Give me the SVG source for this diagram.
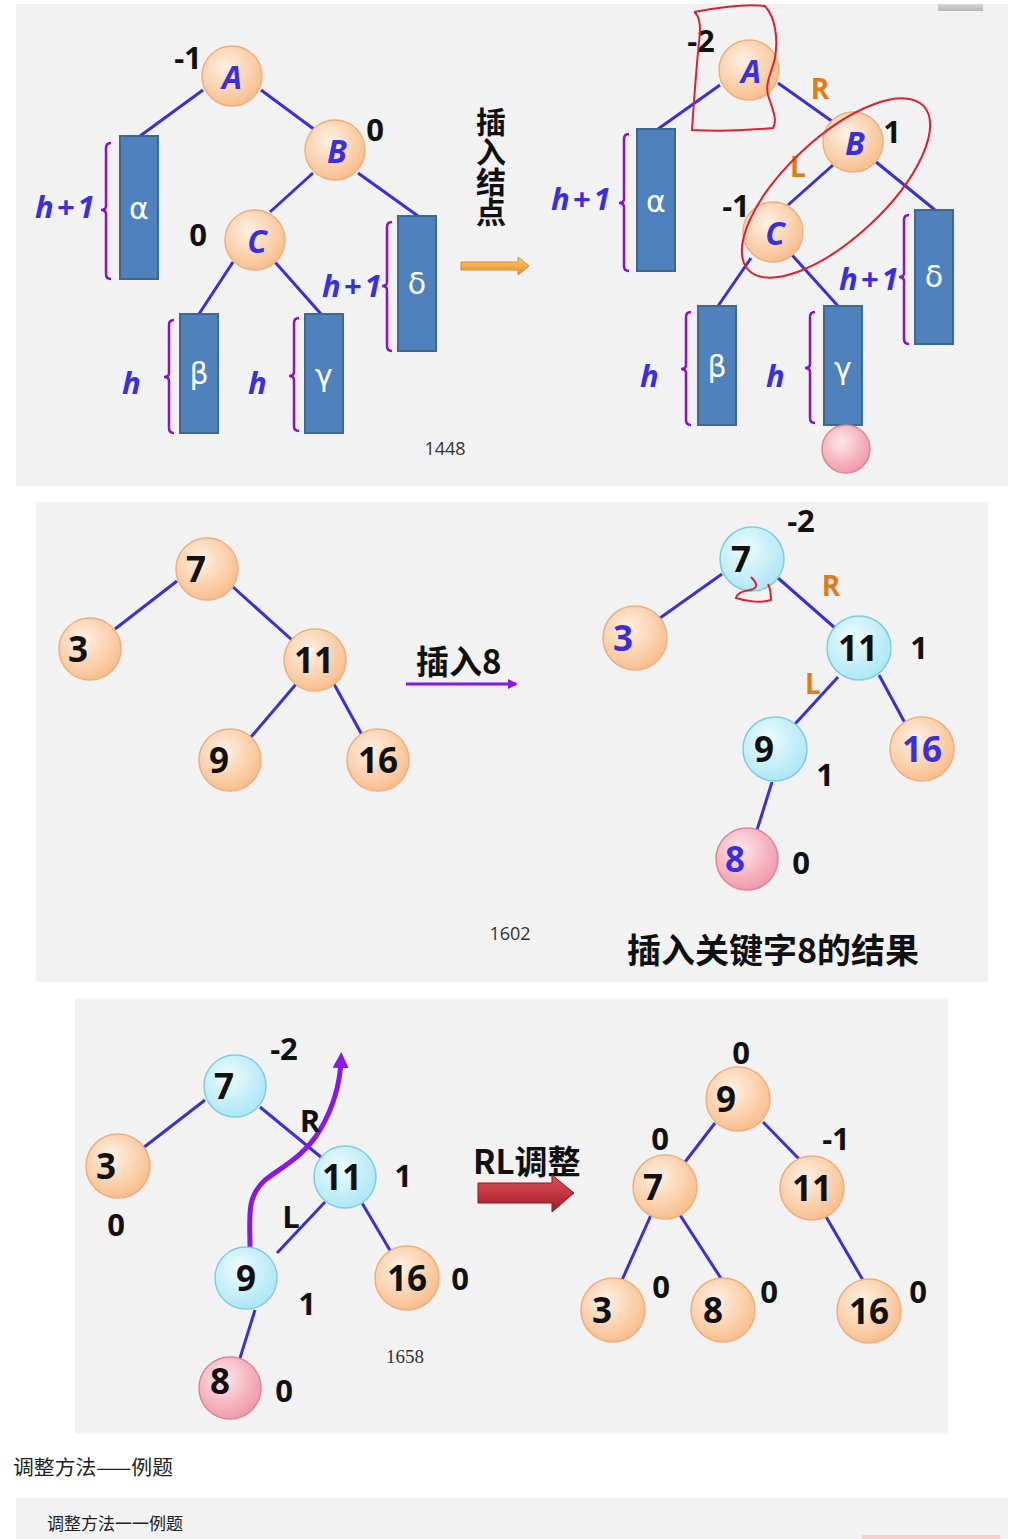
<svg xmlns="http://www.w3.org/2000/svg" width="1021" height="1539" viewBox="0 0 1021 1539">
<defs>
<radialGradient id="gOr" cx="0.4" cy="0.35" r="0.7">
<stop offset="0" stop-color="#fff1e4"/><stop offset="1" stop-color="#f8bb88"/>
</radialGradient>
<radialGradient id="gBl" cx="0.4" cy="0.35" r="0.7">
<stop offset="0" stop-color="#eefbfe"/><stop offset="1" stop-color="#a9e6f5"/>
</radialGradient>
<radialGradient id="gPk" cx="0.4" cy="0.35" r="0.7">
<stop offset="0" stop-color="#fde6ea"/><stop offset="1" stop-color="#f095a5"/>
</radialGradient>
<linearGradient id="gOrA" x1="0" y1="0" x2="0" y2="1">
<stop offset="0" stop-color="#fbd07a"/><stop offset="1" stop-color="#e88a1c"/>
</linearGradient>
<linearGradient id="gRdA" x1="0" y1="0" x2="0" y2="1">
<stop offset="0" stop-color="#e0505a"/><stop offset="1" stop-color="#a01c28"/>
</linearGradient>
<linearGradient id="gGr" x1="0" y1="0" x2="0" y2="1">
<stop offset="0" stop-color="#d6d6d6"/><stop offset="1" stop-color="#b8b8b8"/>
</linearGradient>
<marker id="mPu" markerWidth="10" markerHeight="10" refX="8" refY="5" orient="auto" markerUnits="userSpaceOnUse">
<path d="M0,0 L10,5 L0,10 Z" fill="#8a16e8"/>
</marker>
<marker id="mPu2" markerWidth="16" markerHeight="16" refX="8" refY="8" orient="auto" markerUnits="userSpaceOnUse">
<path d="M0,0 L16,8 L0,16 Z" fill="#8a16e8"/>
</marker>
</defs>
<style>
.bg{fill:#f2f2f2}
.e{stroke:#3b2fd6;stroke-width:3;fill:none}
.or{fill:url(#gOr);stroke:#eeb080;stroke-width:1.5}
.bl{fill:url(#gBl);stroke:#80cde2;stroke-width:1.5}
.pk{fill:url(#gPk);stroke:#da8898;stroke-width:1.5}
.rc{fill:#4f81bd;stroke:#3c6896;stroke-width:2}
.br{stroke:#8a10d8;stroke-width:2.5;fill:none}
.gk{font-family:"DejaVu Sans",sans-serif;font-size:30px;fill:#ffffff;text-anchor:middle;dominant-baseline:central}
.nl{font-family:"Open Sans","Noto Sans",sans-serif;font-weight:bold;font-style:italic;font-size:32px;fill:#3a2fe0;text-anchor:middle;dominant-baseline:central}
.hh{font-family:"Open Sans","Noto Sans",sans-serif;font-weight:bold;font-style:italic;font-size:31px;letter-spacing:3px;fill:#3a2fe0;dominant-baseline:central}
.d{font-family:"Open Sans","Noto Sans",sans-serif;font-weight:bold;font-size:35px;fill:#111;text-anchor:middle;dominant-baseline:central}
.db{font-family:"Open Sans","Noto Sans",sans-serif;font-weight:bold;font-size:35px;fill:#3a2fe0;text-anchor:middle;dominant-baseline:central}
.bf{font-family:"Open Sans","Noto Sans",sans-serif;font-weight:bold;font-size:31px;fill:#111;text-anchor:middle;dominant-baseline:central}
.rl{font-family:"Open Sans","Noto Sans",sans-serif;font-weight:bold;font-size:28px;fill:#e07a1a;text-anchor:middle;dominant-baseline:central}
.cj{font-family:"Noto Sans CJK SC",sans-serif;font-weight:bold;fill:#111;dominant-baseline:central}
.pg{font-family:"Open Sans","Noto Sans",sans-serif;font-size:18px;fill:#333;text-anchor:middle;dominant-baseline:central}
.red{stroke:#e02030;stroke-width:2;fill:none}
</style>

<!-- panel backgrounds -->
<rect class="bg" x="16" y="4" width="992" height="482"/>
<rect class="bg" x="36" y="502" width="952" height="480"/>
<rect class="bg" x="75" y="999" width="873" height="434"/>
<rect class="bg" x="16" y="1498" width="992" height="41"/>
<rect x="938" y="4" width="45" height="7" fill="url(#gGr)"/>
<rect x="862" y="1535" width="138" height="4" fill="#f4cfcc"/>

<!-- ===== Connectors ===== -->
<g id="connectors">
<line class="e" x1="203" y1="90" x2="140" y2="136"/>
<line class="e" x1="261" y1="90" x2="315" y2="130"/>
<line class="e" x1="313" y1="173" x2="270" y2="212"/>
<line class="e" x1="358" y1="173" x2="418" y2="216"/>
<line class="e" x1="233" y1="262" x2="199" y2="314"/>
<line class="e" x1="275" y1="262" x2="321" y2="314"/>
<line class="e" x1="720" y1="85" x2="658" y2="129"/>
<line class="e" x1="778" y1="83" x2="833" y2="122"/>
<line class="e" x1="833" y1="165" x2="788" y2="205"/>
<line class="e" x1="876" y1="162" x2="935" y2="210"/>
<line class="e" x1="751" y1="258" x2="718" y2="306"/>
<line class="e" x1="792" y1="255" x2="838" y2="306"/>
<line class="e" x1="177" y1="581" x2="115" y2="629"/>
<line class="e" x1="233" y1="587" x2="292" y2="640"/>
<line class="e" x1="297" y1="683" x2="251" y2="737"/>
<line class="e" x1="334" y1="684" x2="362" y2="735"/>
<line class="e" x1="722" y1="574" x2="660" y2="618"/>
<line class="e" x1="778" y1="578" x2="835" y2="628"/>
<line class="e" x1="838" y1="677" x2="795" y2="724"/>
<line class="e" x1="879" y1="675" x2="905" y2="723"/>
<line class="e" x1="772" y1="782" x2="757" y2="830"/>
<line class="e" x1="205" y1="1100" x2="143" y2="1148"/>
<line class="e" x1="260" y1="1107" x2="322" y2="1158"/>
<line class="e" x1="325" y1="1202" x2="277" y2="1253"/>
<line class="e" x1="362" y1="1203" x2="391" y2="1252"/>
<line class="e" x1="255" y1="1310" x2="240" y2="1358"/>
<line class="e" x1="715" y1="1123" x2="685" y2="1162"/>
<line class="e" x1="763" y1="1122" x2="800" y2="1160"/>
<line class="e" x1="651" y1="1215" x2="622" y2="1280"/>
<line class="e" x1="680" y1="1215" x2="722" y2="1280"/>
<line class="e" x1="825" y1="1215" x2="864" y2="1282"/>
</g>

<!-- ===== Panel 1 left ===== -->
<g id="p1-alpha"><rect class="rc" x="120" y="136" width="38" height="143"/><text class="gk" x="139" y="208">α</text></g>
<g id="p1-delta"><rect class="rc" x="398" y="216" width="38" height="135"/><text class="gk" x="417" y="283">δ</text></g>
<g id="p1-beta"><rect class="rc" x="180" y="314" width="38" height="119"/><text class="gk" x="199" y="373">β</text></g>
<g id="p1-gamma"><rect class="rc" x="305" y="314" width="38" height="119"/><text class="gk" x="324" y="375">γ</text></g>
<g id="p1-brackets">
<path class="br" d="M111,143 Q106,143 106,148 L106,206 Q106,210 101,210 Q106,210 106,214 L106,274 Q106,279 111,279"/>
<path class="br" d="M174,320 Q169,320 169,325 L169,373 Q169,377 164,377 Q169,377 169,381 L169,428 Q169,433 174,433"/>
<path class="br" d="M299,318 Q294,318 294,323 L294,372 Q294,376 289,376 Q294,376 294,380 L294,426 Q294,431 299,431"/>
<path class="br" d="M392,222 Q387,222 387,227 L387,282 Q387,286 382,286 Q387,286 387,290 L387,346 Q387,351 392,351"/>
</g>
<text class="hh" x="35" y="206">h+1</text>
<text class="hh" x="122" y="382">h</text>
<text class="hh" x="248" y="382">h</text>
<text class="hh" x="322" y="285">h+1</text>
<g id="p1-A"><circle class="or" cx="232" cy="76" r="30"/><text class="nl" x="232" y="76">A</text></g>
<g id="p1-B"><circle class="or" cx="335" cy="150" r="30"/><text class="nl" x="337" y="150">B</text></g>
<g id="p1-C"><circle class="or" cx="255" cy="240" r="30"/><text class="nl" x="257" y="240">C</text></g>
<text class="bf" x="188" y="57">-1</text>
<text class="bf" x="375" y="129">0</text>
<text class="bf" x="198" y="234">0</text>

<!-- insert arrow -->
<g id="p1-insert">
<text class="cj" font-size="30" x="491" y="107" writing-mode="vertical-rl" dominant-baseline="auto">插入结点</text>
<path d="M461,262 L518,262 L518,257 L529,266 L518,275 L518,270 L461,270 Z" fill="url(#gOrA)" stroke="#d98a30" stroke-width="1"/>
</g>
<text class="pg" x="445" y="448">1448</text>

<!-- ===== Panel 1 right ===== -->
<g id="p1r-alpha"><rect class="rc" x="637" y="129" width="38" height="142"/><text class="gk" x="656" y="201">α</text></g>
<g id="p1r-delta"><rect class="rc" x="915" y="210" width="38" height="134"/><text class="gk" x="934" y="276">δ</text></g>
<g id="p1r-beta"><rect class="rc" x="698" y="306" width="38" height="119"/><text class="gk" x="717" y="366">β</text></g>
<g id="p1r-gamma"><rect class="rc" x="824" y="306" width="38" height="119"/><text class="gk" x="843" y="368">γ</text></g>
<g id="p1r-brackets">
<path class="br" d="M629,134 Q624,134 624,139 L624,199 Q624,203 619,203 Q624,203 624,207 L624,266 Q624,271 629,271"/>
<path class="br" d="M691,312 Q686,312 686,317 L686,365 Q686,369 681,369 Q686,369 686,373 L686,420 Q686,425 691,425"/>
<path class="br" d="M815,312 Q810,312 810,317 L810,364 Q810,368 805,368 Q810,368 810,372 L810,418 Q810,423 815,423"/>
<path class="br" d="M909,215 Q904,215 904,220 L904,273 Q904,277 899,277 Q904,277 904,281 L904,339 Q904,344 909,344"/>
</g>
<text class="hh" x="551" y="198">h+1</text>
<text class="hh" x="640" y="375">h</text>
<text class="hh" x="766" y="375">h</text>
<text class="hh" x="839" y="278">h+1</text>
<g id="p1r-A"><circle class="or" cx="749" cy="70" r="30"/><text class="nl" x="751" y="70">A</text></g>
<g id="p1r-B"><circle class="or" cx="853" cy="142" r="30"/><text class="nl" x="855" y="142">B</text></g>
<g id="p1r-C"><circle class="or" cx="773" cy="232" r="30"/><text class="nl" x="775" y="232">C</text></g>
<g id="p1r-new"><circle class="pk" cx="846" cy="449" r="24"/></g>
<text class="bf" x="701" y="40">-2</text>
<text class="bf" x="892" y="131">1</text>
<text class="bf" x="736" y="205">-1</text>
<text class="rl" x="820" y="88">R</text>
<text class="rl" x="798" y="166">L</text>
<path class="red" d="M694,12 C715,8 745,3 765,6 C776,18 778,40 775,58 C772,72 765,82 768,95 C772,108 778,120 773,128 C745,131 715,131 692,130 C694,100 697,60 700,32 C700,22 698,14 694,12"/>
<ellipse class="red" cx="836" cy="188" rx="120" ry="50" transform="rotate(-43 836 188)"/>

<!-- ===== Panel 2 left ===== -->
<g id="p2-7"><circle class="or" cx="207" cy="569" r="31"/><text class="d" x="196" y="568">7</text></g>
<g id="p2-3"><circle class="or" cx="90" cy="649" r="31"/><text class="d" x="78" y="648">3</text></g>
<g id="p2-11"><circle class="or" cx="315" cy="660" r="31"/><text class="d" x="314" y="659">11</text></g>
<g id="p2-9"><circle class="or" cx="230" cy="760" r="31"/><text class="d" x="219" y="759">9</text></g>
<g id="p2-16"><circle class="or" cx="378" cy="760" r="31"/><text class="d" x="378" y="759">16</text></g>
<g id="p2-insert">
<text class="cj" font-size="33" x="416" y="660">插入8</text>
<line x1="406" y1="684" x2="516" y2="684" stroke="#8a16e8" stroke-width="3" marker-end="url(#mPu)"/>
</g>
<text class="pg" x="510" y="933">1602</text>

<!-- ===== Panel 2 right ===== -->
<g id="p2r-7"><circle class="bl" cx="752" cy="559" r="32"/><text class="d" x="741" y="558">7</text></g>
<g id="p2r-3"><circle class="or" cx="635" cy="638" r="32"/><text class="db" x="623" y="637">3</text></g>
<g id="p2r-11"><circle class="bl" cx="859" cy="648" r="32"/><text class="d" x="858" y="647">11</text></g>
<g id="p2r-9"><circle class="bl" cx="775" cy="749" r="32"/><text class="d" x="764" y="748">9</text></g>
<g id="p2r-16"><circle class="or" cx="922" cy="749" r="32"/><text class="db" x="922" y="748">16</text></g>
<g id="p2r-8"><circle class="pk" cx="747" cy="859" r="31"/><text class="db" x="735" y="858">8</text></g>
<text class="bf" x="801" y="520">-2</text>
<text class="bf" x="919" y="647">1</text>
<text class="bf" x="825" y="774">1</text>
<text class="bf" x="801" y="862">0</text>
<text class="rl" x="831" y="585">R</text>
<text class="rl" x="813" y="683">L</text>
<path class="red" d="M751,577 C756,582 760,588 750,590 C742,591 737,594 736,598 C748,602 762,603 771,600 C771,593 770,588 768,584"/>
<text class="cj" font-size="34" x="627" y="948">插入关键字8的结果</text>

<!-- ===== Panel 3 left ===== -->
<path d="M250,1248 C250,1215 246,1198 265,1180 C285,1165 305,1155 320,1130 C333,1108 340,1085 341,1060" stroke="#8a16e8" stroke-width="5" fill="none" marker-end="url(#mPu2)"/>
<g id="p3-7"><circle class="bl" cx="235" cy="1086" r="31"/><text class="d" x="224" y="1085">7</text></g>
<g id="p3-3"><circle class="or" cx="118" cy="1166" r="32"/><text class="d" x="106" y="1165">3</text></g>
<g id="p3-11"><circle class="bl" cx="345" cy="1177" r="31"/><text class="d" x="342" y="1176">11</text></g>
<g id="p3-9"><circle class="bl" cx="246" cy="1278" r="31"/><text class="d" x="246" y="1277">9</text></g>
<g id="p3-16"><circle class="or" cx="407" cy="1278" r="32"/><text class="d" x="407" y="1277">16</text></g>
<g id="p3-8"><circle class="pk" cx="230" cy="1388" r="31"/><text class="d" x="220" y="1380">8</text></g>
<text class="bf" x="284" y="1048">-2</text>
<text class="bf" x="116" y="1224">0</text>
<text class="bf" x="403" y="1175">1</text>
<text class="bf" x="307" y="1303">1</text>
<text class="bf" x="460" y="1278">0</text>
<text class="bf" x="284" y="1390">0</text>
<text class="bf" x="310" y="1120">R</text>
<text class="bf" x="291" y="1216">L</text>
<text x="405" y="1356" font-family="Liberation Serif,serif" font-size="19" fill="#333" text-anchor="middle" dominant-baseline="central">1658</text>

<g id="p3-rl">
<text class="cj" font-size="33" x="473" y="1160" font-family="'Open Sans','Noto Sans CJK SC',sans-serif">RL调整</text>
<path d="M478,1183 L552,1183 L552,1175 L574,1193 L552,1212 L552,1203 L478,1203 Z" fill="url(#gRdA)" stroke="#8a1820" stroke-width="1"/>
</g>

<!-- ===== Panel 3 right ===== -->
<g id="p3r-9"><circle class="or" cx="738" cy="1099" r="32"/><text class="d" x="726" y="1098">9</text></g>
<g id="p3r-7"><circle class="or" cx="665" cy="1187" r="32"/><text class="d" x="653" y="1186">7</text></g>
<g id="p3r-11"><circle class="or" cx="812" cy="1188" r="32"/><text class="d" x="812" y="1187">11</text></g>
<g id="p3r-3"><circle class="or" cx="613" cy="1310" r="32"/><text class="d" x="602" y="1309">3</text></g>
<g id="p3r-8"><circle class="or" cx="723" cy="1310" r="32"/><text class="d" x="713" y="1309">8</text></g>
<g id="p3r-16"><circle class="or" cx="869" cy="1311" r="32"/><text class="d" x="869" y="1310">16</text></g>
<text class="bf" x="741" y="1052">0</text>
<text class="bf" x="660" y="1138">0</text>
<text class="bf" x="836" y="1138">-1</text>
<text class="bf" x="661" y="1286">0</text>
<text class="bf" x="769" y="1291">0</text>
<text class="bf" x="918" y="1291">0</text>

<!-- captions -->
<text x="13" y="1466" font-family="'Noto Sans CJK SC',sans-serif" font-size="20" fill="#222" dominant-baseline="central" textLength="160" lengthAdjust="spacingAndGlyphs">调整方法——例题</text>
<text x="47" y="1522" font-family="'Noto Sans CJK SC',sans-serif" font-size="17" fill="#222" dominant-baseline="central" textLength="136" lengthAdjust="spacingAndGlyphs">调整方法一一例题</text>
</svg>
